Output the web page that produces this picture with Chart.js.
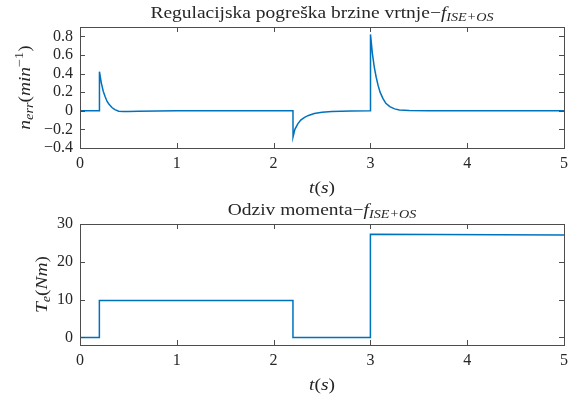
<!DOCTYPE html>
<html><head><meta charset="utf-8">
<script src="https://cdn.jsdelivr.net/npm/chart.js@4/dist/chart.umd.min.js"></script>
<style>html,body{margin:0;padding:0;background:#fff;overflow:hidden}
canvas{position:absolute;left:0}</style>
</head><body>
<canvas id="c1" width="575" height="199" style="top:0"></canvas>
<canvas id="c2" width="575" height="199" style="top:199px"></canvas>
<script>
// ---- data ----
const timeErr = [0, 0.2, 0.201, 0.22, 0.24, 0.26, 0.28, 0.30, 0.33, 0.36, 0.40, 0.45, 0.50, 0.60, 0.80, 1.0, 1.5, 2.0, 2.2,
  2.201, 2.22, 2.25, 2.28, 2.32, 2.36, 2.42, 2.50, 2.60, 2.80, 3.0,
  3.001, 3.02, 3.04, 3.06, 3.08, 3.10, 3.13, 3.16, 3.20, 3.25, 3.30, 3.40, 3.60, 4.0, 5.0];
const nErr = [0, 0, 0.42, 0.30, 0.21, 0.15, 0.10, 0.07, 0.035, 0.012, -0.004, -0.009, -0.009, -0.006, -0.002, 0, 0, 0, 0,
  -0.28, -0.20, -0.14, -0.10, -0.07, -0.05, -0.03, -0.015, -0.007, -0.002, 0,
  0.82, 0.62, 0.47, 0.36, 0.27, 0.20, 0.13, 0.08, 0.045, 0.02, 0.008, 0.002, 0, 0, 0];
const timeTe = [0, 0.2, 0.2, 2.2, 2.2, 3.0, 3.0, 5.0];
const Te = [0, 0, 9.8, 9.8, 0, 0, 27.3, 27.1];
const xTicks = [0, 1, 2, 3, 4, 5];
const yTicksErr = [-0.4, -0.2, 0, 0.2, 0.4, 0.6, 0.8];
const yTicksTe = [0, 10, 20, 30];

const FONT = 'Liberation Serif';
const TXT = '#262626';
const AX = '#4d4d4d';
const LBL = 16.5;   // label/title font size
const SX = 1.18;    // horizontal stretch to mimic the wider serif of the reference

function fontStr(r, base) {
  const size = r.small ? Math.round(base * 0.72) : base;
  return (r.it ? 'italic ' : '') + size + 'px "' + FONT + '"';
}
function drawRuns(ctx, runs, cx, by, base) {
  let total = 0;
  runs.forEach(r => { ctx.font = fontStr(r, base); r.w = ctx.measureText(r.t).width; total += r.w; });
  ctx.save();
  ctx.translate(cx - total * SX / 2, by);
  ctx.scale(SX, 1);
  let x = 0;
  ctx.fillStyle = TXT; ctx.textBaseline = 'alphabetic'; ctx.textAlign = 'left';
  runs.forEach(r => { ctx.font = fontStr(r, base); ctx.fillText(r.t, x, r.dy || 0); x += r.w; });
  ctx.restore();
}

function boxPlugin(cfg) {
  return {
    id: 'box',
    afterDraw(chart) {
      const ctx = chart.ctx, a = chart.chartArea, xs = chart.scales.x, ys = chart.scales.y;
      ctx.save();
      ctx.strokeStyle = AX; ctx.lineWidth = 1;
      ctx.strokeRect(Math.round(a.left) + 0.5, Math.round(a.top) + 0.5, Math.round(a.right - a.left), Math.round(a.bottom - a.top));
      ctx.beginPath();
      xTicks.forEach(v => {
        const p = Math.round(xs.getPixelForValue(v)) + 0.5;
        ctx.moveTo(p, a.bottom); ctx.lineTo(p, a.bottom - 5);
        ctx.moveTo(p, a.top); ctx.lineTo(p, a.top + 5);
      });
      cfg.yTicks.forEach(v => {
        const p = Math.round(ys.getPixelForValue(v)) + 0.5;
        ctx.moveTo(a.left, p); ctx.lineTo(a.left + 5, p);
        ctx.moveTo(a.right, p); ctx.lineTo(a.right - 5, p);
      });
      ctx.stroke();
      const cx = (a.left + a.right) / 2;
      drawRuns(ctx, cfg.title, cx, cfg.titleY, LBL);
      drawRuns(ctx, cfg.xlabel, cx, cfg.xlabelY, LBL);
      ctx.save();
      ctx.translate(cfg.ylabelX, (a.top + a.bottom) / 2);
      ctx.rotate(-Math.PI / 2);
      drawRuns(ctx, cfg.ylabel, 0, 0, LBL);
      ctx.restore();
      ctx.restore();
    }
  };
}

function fmt(v) { return v < 0 ? '\u2212' + String(Math.abs(v)) : String(v); }

function makeChart(id, xsArr, ysArr, cfg) {
  return new Chart(document.getElementById(id), {
    type: 'line',
    data: { datasets: [{ data: xsArr.map((x, i) => ({ x: x, y: ysArr[i] })), borderColor: '#0072BD', borderWidth: 1.5,
      pointRadius: 0, tension: 0, fill: false }] },
    options: {
      responsive: false, animation: false, devicePixelRatio: 1,
      layout: { padding: { top: cfg.padTop, right: 11, left: 0, bottom: 0 } },
      plugins: { legend: { display: false }, tooltip: { enabled: false }, title: { display: false } },
      scales: {
        x: { type: 'linear', min: 0, max: 5,
          afterBuildTicks: s => { s.ticks = xTicks.map(v => ({ value: v })); },
          afterFit: s => { s.height = cfg.xh; },
          grid: { display: false, drawTicks: false }, border: { display: false },
          ticks: { font: { family: FONT, size: 16 }, color: TXT, padding: 6, maxRotation: 0, autoSkip: false, callback: v => fmt(v) } },
        y: { type: 'linear', min: cfg.yMin, max: cfg.yMax,
          afterBuildTicks: s => { s.ticks = cfg.yTicks.map(v => ({ value: v })); },
          afterFit: s => { s.width = 80; },
          grid: { display: false, drawTicks: false }, border: { display: false },
          ticks: { font: { family: FONT, size: 16 }, color: TXT, padding: 7, autoSkip: false, callback: v => fmt(v) } }
      }
    },
    plugins: [boxPlugin(cfg)]
  });
}

makeChart('c1', timeErr, nErr, {
  padTop: 27, xh: 51, yMin: -0.4, yMax: 0.9, yTicks: yTicksErr,
  title: [{ t: 'Regulacijska pogreška brzine vrtnje\u2212' }, { t: 'f', it: 1 }, { t: 'ISE+OS', it: 1, small: 1, dy: 3 }],
  titleY: 18,
  xlabel: [{ t: 't', it: 1 }, { t: '(' }, { t: 's', it: 1 }, { t: ')' }], xlabelY: 193,
  ylabel: [{ t: 'n', it: 1 }, { t: 'err', it: 1, small: 1, dy: 3 }, { t: '(' }, { t: 'min', it: 1 }, { t: '\u22121', small: 1, dy: -7 }, { t: ')' }],
  ylabelX: 30
});
makeChart('c2', timeTe, Te, {
  padTop: 25, xh: 53, yMin: -2, yMax: 30, yTicks: yTicksTe,
  title: [{ t: 'Odziv momenta\u2212' }, { t: 'f', it: 1 }, { t: 'ISE+OS', it: 1, small: 1, dy: 3 }],
  titleY: 16,
  xlabel: [{ t: 't', it: 1 }, { t: '(' }, { t: 's', it: 1 }, { t: ')' }], xlabelY: 191,
  ylabel: [{ t: 'T', it: 1 }, { t: 'e', it: 1, small: 1, dy: 3 }, { t: '(' }, { t: 'Nm', it: 1 }, { t: ')' }],
  ylabelX: 47
});
</script>
</body></html>
